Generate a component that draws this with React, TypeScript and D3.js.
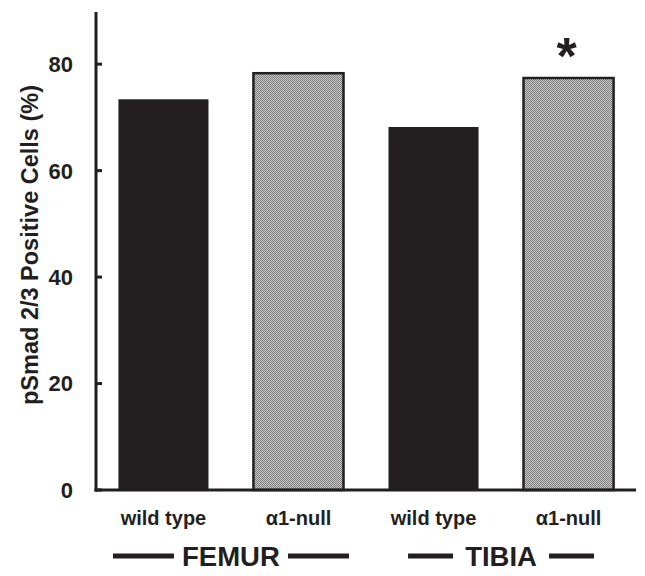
import React from "react";
import * as d3 from "d3";

const categories = ["wild type", "α1-null", "wild type", "α1-null"];
const values = [73.4, 78.3, 68.2, 77.4];
const genotypes = ["wt", "null", "wt", "null"];
const groups = ["FEMUR", "TIBIA"];
const yTicks = [0, 20, 40, 60, 80];

const W = 645;
const H = 576;
const left = 96;
const right = 636;
const top = 12;
const bottom = 490;

export default function App() {
  const x = d3.scaleBand<number>()
    .domain(categories.map((c, i) => i))
    .range([left, right])
    .paddingInner(0.333)
    .paddingOuter(0.166);
  const y = d3.scaleLinear().domain([0, 89.8]).range([bottom, top]);
  const font = "Liberation Sans, Arial, sans-serif";
  const ink = "#231f20";

  return (
    <svg width={W} height={H} style={{ position: "absolute", left: 0, top: 0 }}>
      <defs>
        <pattern id="checker" width="2" height="2" patternUnits="userSpaceOnUse">
          <rect width="2" height="2" fill="#cccccc" />
          <rect width="1" height="1" fill="#7a7a7a" />
          <rect x="1" y="1" width="1" height="1" fill="#7a7a7a" />
        </pattern>
      </defs>
      <rect width={W} height={H} fill="#fff" />
      {values.map((v, i) => (
        <rect
          key={i}
          x={x(i)}
          y={y(v)}
          width={x.bandwidth()}
          height={bottom - y(v)}
          fill={genotypes[i] === "wt" ? ink : "url(#checker)"}
          stroke={ink}
          strokeWidth={genotypes[i] === "wt" ? 0 : 2.5}
        />
      ))}
      {/* axes */}
      <line x1={left} x2={left} y1={top} y2={bottom + 1.5} stroke={ink} strokeWidth={3} />
      <line x1={left - 1.5} x2={right} y1={bottom} y2={bottom} stroke={ink} strokeWidth={3} />
      {yTicks.map((t) => (
        <g key={t}>
          <line x1={left} x2={left + 6} y1={y(t)} y2={y(t)} stroke={ink} strokeWidth={3} />
          <text x={73} y={y(t)} dy="0.36em" textAnchor="end" fontFamily={font} fontWeight="bold" fontSize={22} fill={ink}>
            {t}
          </text>
        </g>
      ))}
      <text
        transform={`translate(38,245) rotate(-90)`}
        textAnchor="middle"
        fontFamily={font}
        fontWeight="bold"
        fontSize={23.5}
        fill={ink}
      >
        pSmad 2/3 Positive Cells (%)
      </text>
      {categories.map((c, i) => (
        <text
          key={i}
          x={x(i)! + x.bandwidth() / 2}
          y={525}
          textAnchor="middle"
          fontFamily={font}
          fontWeight="bold"
          fontSize={20}
          fill={ink}
        >
          {c}
        </text>
      ))}
      {groups.map((g, gi) => {
        const cx = (x(gi * 2)! + x(gi * 2 + 1)! + x.bandwidth()) / 2;
        const half = gi === 0 ? 118 : 93;
        const gap = gi === 0 ? 57 : 48;
        return (
          <g key={g}>
            <line x1={cx - half} x2={cx - gap} y1={556} y2={556} stroke={ink} strokeWidth={5} />
            <line x1={cx + gap} x2={cx + half} y1={556} y2={556} stroke={ink} strokeWidth={5} />
            <text x={cx} y={566} textAnchor="middle" fontFamily={font} fontWeight="bold" fontSize={27.5} fill={ink}>
              {g}
            </text>
          </g>
        );
      })}
      <text
        x={x(3)! + x.bandwidth() / 2 - 2}
        y={y(values[3]) - 4}
        textAnchor="middle"
        fontFamily={font}
        fontWeight="bold"
        fontSize={52}
        fill={ink}
      >
        *
      </text>
    </svg>
  );
}
